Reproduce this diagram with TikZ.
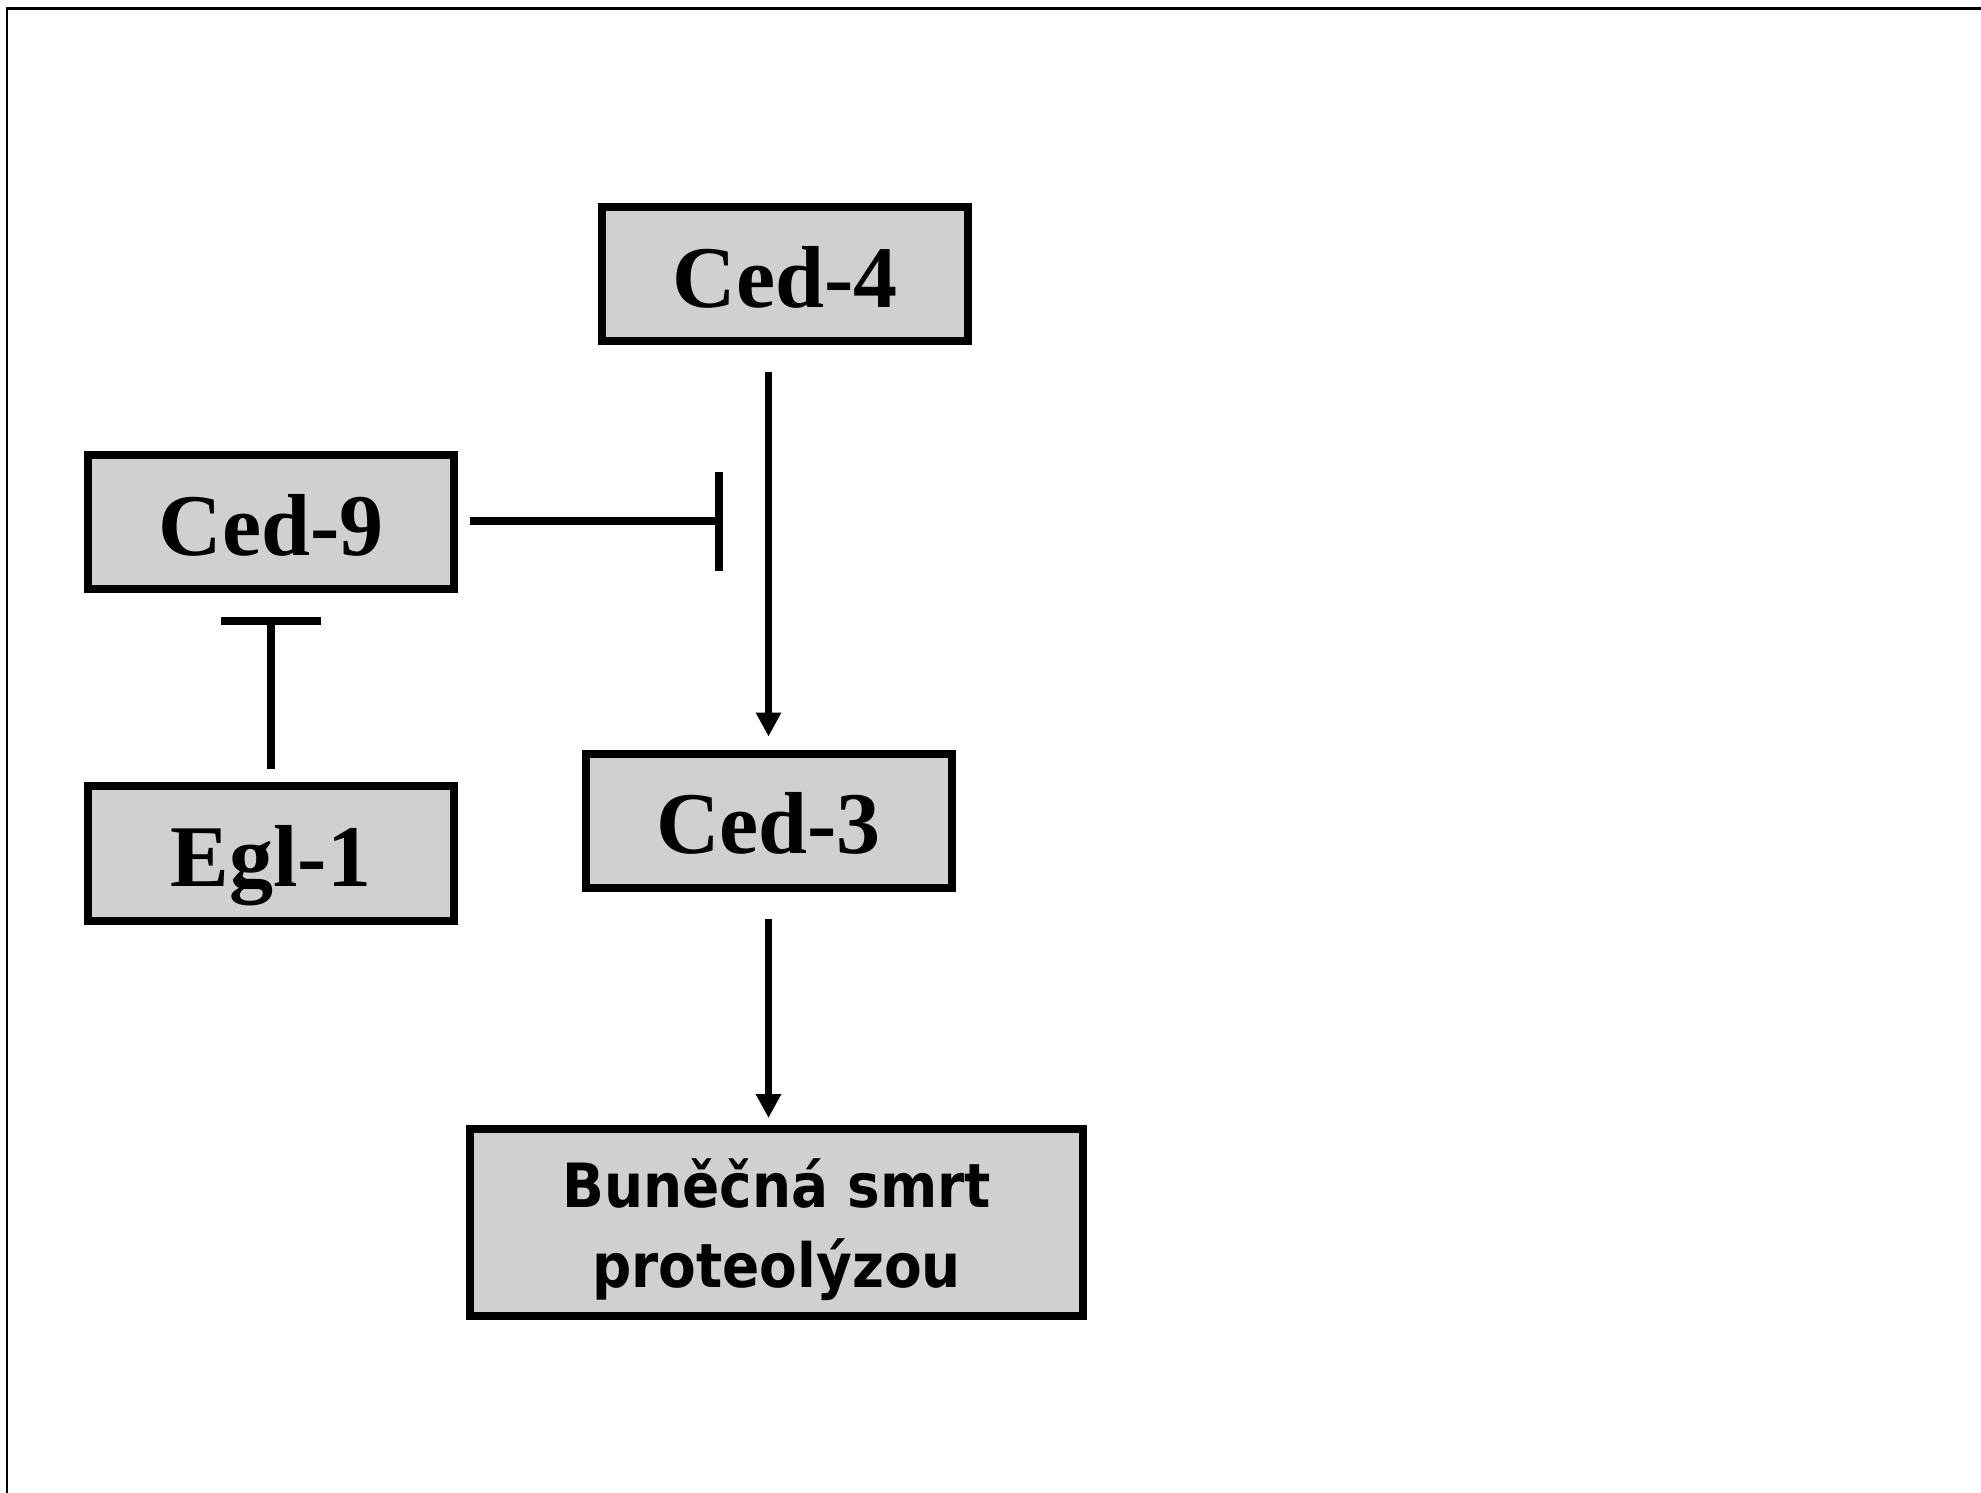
\documentclass[tikz,border=0pt]{standalone}
\usepackage{fontspec}
\setmainfont{Liberation Serif}
\newfontfamily\comicfont[FakeStretch=0.9]{DejaVu Sans Bold}
\usetikzlibrary{arrows.meta,calc}
\definecolor{boxgray}{RGB}{208,208,208}
\begin{document}
\begin{tikzpicture}[x=0.5pt,y=-0.5pt,
  gene/.style={draw=black, line width=4pt, fill=boxgray, minimum width=183pt,
    minimum height=67pt, inner sep=0pt, text height=33pt, text depth=0pt,
    font=\fontsize{44pt}{50pt}\selectfont\bfseries},
  act/.style={line width=3.75pt, -{Triangle[length=12pt,width=12pt]}},
  inh/.style={line width=4pt}]
\useasboundingbox (0,0) rectangle (1981,1493);
% page frame (only top and left edges visible)
\draw[line width=1.5pt] (5.5,9) -- (1981,9);
\draw[line width=1.1pt] (7,8.5) -- (7,1493);
% genes
\node[gene] (ced4) at (785,274) {Ced-4};
\node[gene] (ced9) at (271,522) {Ced-9};
\node[gene, minimum height=67.5pt] (egl1) at (271,853.5) {Egl-1};
\node[gene] (ced3) at (768.5,820.5) {Ced-3};
\node[gene, minimum width=306.5pt, minimum height=93.5pt,
  font=\comicfont\fontsize{30.5pt}{40pt}\selectfont, align=center,
  text height=72pt, text depth=7.5pt] (smrt) at (776.5,1222.5) {Buněčná smrt\\proteolýzou};
% activations
\draw[act] ($(ced3.north |- ced4.south)+(0,27)$) -- ($(ced3.north)+(0,-13)$);
\draw[act] ($(ced3.south)+(0,27)$) -- ($(smrt.north -| ced3.south)+(0,-7)$);
% inhibition Ced-9 -| pathway
\coordinate (bar1) at ($(ced3.north |- ced9.east)+(-49.5,-1)$);
\draw[inh] ($(ced9.east)+(12,-1)$) -- (bar1);
\draw[inh] ($(bar1)+(0,-49.5)$) -- ($(bar1)+(0,49.5)$);
% inhibition Egl-1 -| Ced-9
\coordinate (bar2) at ($(ced9.south)+(0,28)$);
\draw[inh] ($(egl1.north)+(0,-13)$) -- (bar2);
\draw[inh] ($(bar2)+(-50,0)$) -- ($(bar2)+(50,0)$);
\end{tikzpicture}
\end{document}
